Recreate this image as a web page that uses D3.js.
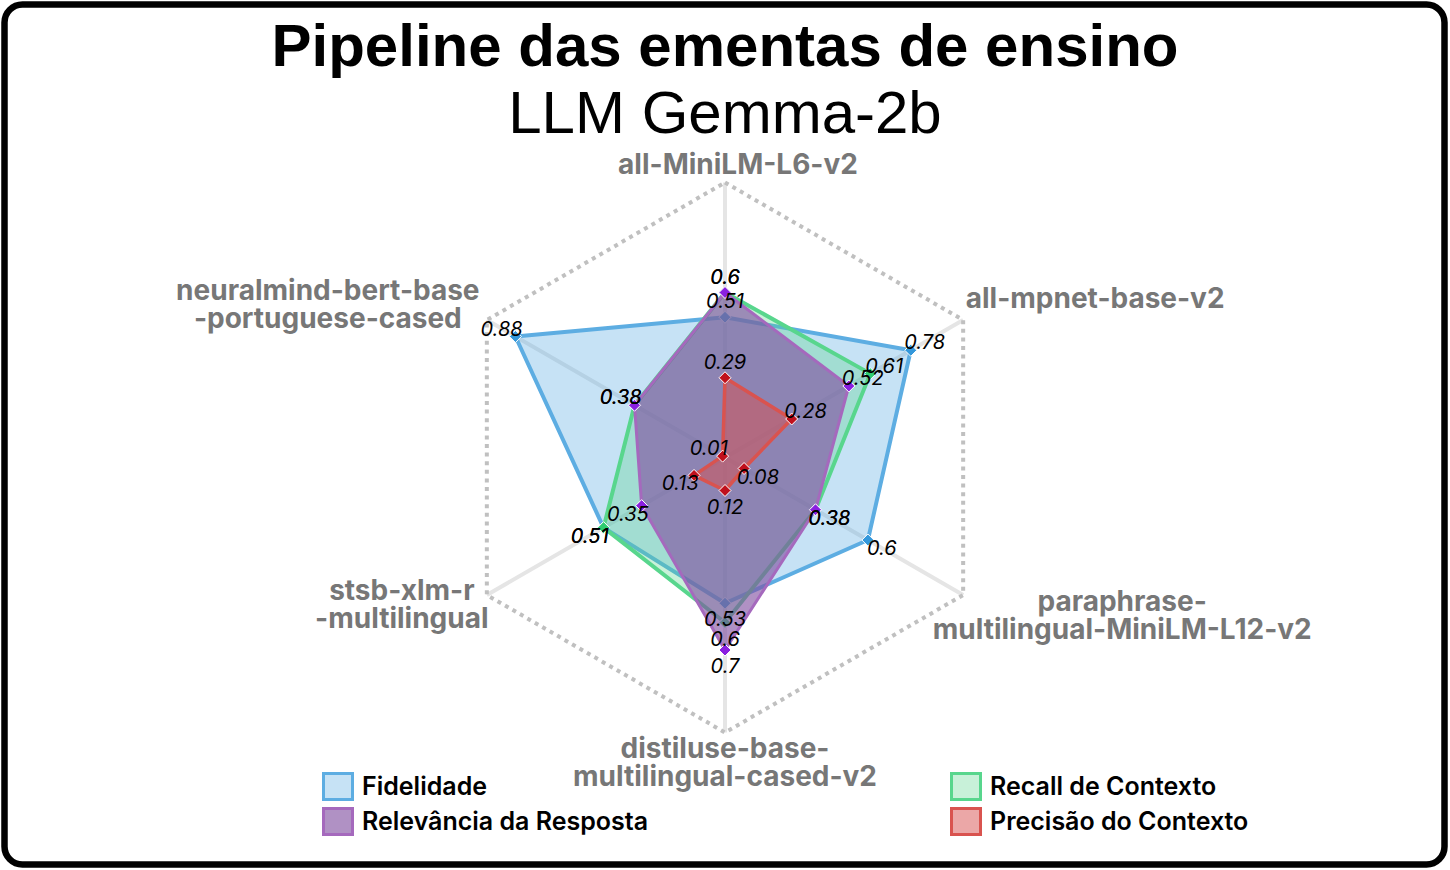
<!DOCTYPE html>
<html><head><meta charset="utf-8">
<script src="https://cdn.jsdelivr.net/npm/d3@7"></script>
<style>html,body{margin:0;padding:0;background:#fff;}svg{display:block;}</style>
</head><body>
<svg id="chart" width="1450" height="870"></svg>
<script>
// ---- data ----
const axisLabels = ["all-MiniLM-L6-v2", "all-mpnet-base-v2", "paraphrase-\nmultilingual-MiniLM-L12-v2", "distiluse-base-\nmultilingual-cased-v2", "stsb-xlm-r\n-multilingual", "neuralmind-bert-base\n-portuguese-cased"];
const seriesNames = ["Fidelidade", "Recall de Contexto", "Relevância da Resposta", "Precisão do Contexto"];
const fidelidade = [0.51, 0.78, 0.6, 0.53, 0.51, 0.88];
const recall     = [0.6, 0.61, 0.38, 0.6, 0.51, 0.38];
const relevancia = [0.6, 0.52, 0.38, 0.7, 0.35, 0.38];
const precisao   = [0.29, 0.28, 0.08, 0.12, 0.13, 0.01];
const titleText = "Pipeline das ementas de ensino";
const subtitleText = "LLM Gemma-2b";

// ---- layout / style ----
const W = 1450, H = 870, cx = 725, cy = 457.5, R = 275;
const styles = [
  {stroke:"#5dade2", fill:"rgba(93,173,226,0.35)", marker:"#3498db", sw:4},
  {stroke:"#58d68d", fill:"rgba(88,214,141,0.33)", marker:"#2ecc71", sw:4},
  {stroke:"#a569bd", fill:"rgba(128,78,160,0.62)", marker:"#8a1fe0", sw:3},
  {stroke:"#d9534f", fill:"rgba(215,80,80,0.5)", marker:"#c0101c", sw:3.5}
];
const legendPos = [[322,786],[950,786],[322,821],[950,821]];
const labelOffsets = [[13,-19],[132,-22],[159,20],[0,29],[-85,9],[-159,-16]];

const svg = d3.select("#chart");
const series = [fidelidade, recall, relevancia, precisao];
const n = axisLabels.length;
const rScale = d3.scaleLinear().domain([0,1]).range([0,R]);
const angle = d3.scaleLinear().domain([0,n]).range([0,2*Math.PI]);
const pt = (i, v) => [cx + rScale(v)*Math.sin(angle(i)), cy - rScale(v)*Math.cos(angle(i))];

// border
svg.append("rect").attr("x",4.5).attr("y",4.5).attr("width",W-10).attr("height",H-10)
  .attr("rx",18).attr("fill","#fff").attr("stroke","#000").attr("stroke-width",6.5);

// titles
svg.append("text").attr("x",cx).attr("y",66).attr("text-anchor","middle")
  .style("font-family","'Liberation Sans', Arial, sans-serif").style("font-weight","bold").style("font-size","60px")
  .text(titleText);
svg.append("text").attr("x",cx).attr("y",133).attr("text-anchor","middle")
  .style("font-family","'Liberation Sans', Arial, sans-serif").style("font-size","60px")
  .text(subtitleText);

// spokes
const g = svg.append("g");
g.selectAll(".spoke").data(d3.range(n)).join("line")
  .attr("x1",cx).attr("y1",cy)
  .attr("x2",i=>pt(i,1)[0]).attr("y2",i=>pt(i,1)[1])
  .attr("stroke","#e5e5e5").attr("stroke-width",4);
// outer polygon dotted
const line = d3.line();
g.append("path").attr("d", line(d3.range(n).map(i=>pt(i,1))) + "Z")
  .attr("fill","none").attr("stroke","#c0c0c0").attr("stroke-width",4).attr("stroke-dasharray","4 4.6");

const diamond = (x,y,s) => `M${x},${y-s}L${x+s},${y}L${x},${y+s}L${x-s},${y}Z`;

series.forEach((vals, si) => {
  const st = styles[si];
  const pts = vals.map((v,i)=>pt(i,v));
  g.append("path").attr("d", line(pts)+"Z")
    .attr("fill", st.fill).attr("stroke", st.stroke).attr("stroke-width", st.sw).attr("stroke-linejoin","round");
  g.selectAll(null).data(pts).join("path")
    .attr("d", d=>diamond(d[0],d[1],6))
    .attr("fill", st.marker).attr("stroke","#fff").attr("stroke-width",1);
});

// value labels
series.forEach((vals, si) => {
  g.selectAll(null).data(vals).join("text")
    .attr("x",(v,i)=>pt(i,v)[0] + 16*Math.sin(angle(i)))
    .attr("y",(v,i)=>pt(i,v)[1] - 16*Math.cos(angle(i)))
    .attr("text-anchor","middle").attr("dominant-baseline","central")
    .style("font-family","Inter, sans-serif").style("font-style","italic").style("font-size","20px").attr("fill","#000")
    .text(v=>String(v));
});

// axis labels
axisLabels.forEach((lab,i)=>{
  const p = pt(i,1);
  const lines = lab.split("\n");
  const x = p[0] + labelOffsets[i][0], y = p[1] + labelOffsets[i][1];
  const t = g.append("text").attr("text-anchor","middle")
    .style("font-family","Inter, sans-serif").style("font-weight","700").style("font-size","28px").attr("fill","#777");
  lines.forEach((l,k)=>{
    t.append("tspan").attr("x",x).attr("y", y + (k - (lines.length-1)/2)*28).attr("dominant-baseline","central").text(l);
  });
});

// legend
const leg = svg.append("g");
seriesNames.forEach((name,si)=>{
  const [lx,ly] = legendPos[si];
  const st = styles[si];
  leg.append("rect").attr("x",lx+1.5).attr("y",ly-12.5).attr("width",29).attr("height",26)
    .attr("fill",st.fill).attr("stroke",st.stroke).attr("stroke-width",3);
  leg.append("text").attr("x",lx+40).attr("y",ly).attr("dominant-baseline","central")
    .style("font-family","Inter, sans-serif").style("font-weight","600").style("font-size","25px").attr("fill","#000")
    .text(name);
});
</script>
</body></html>
